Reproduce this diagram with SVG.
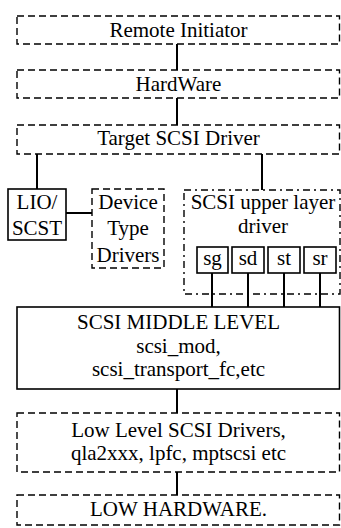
<svg xmlns="http://www.w3.org/2000/svg" width="341" height="528" viewBox="0 0 341 528">
<style>
  .dash { fill: #fff; stroke: #000; stroke-width: 1.4; stroke-dasharray: 7 4; }
  .dashdot { fill: none; stroke: #000; stroke-width: 1.4; stroke-dasharray: 7 4 2 4; }
  .solid { fill: #fff; stroke: #000; stroke-width: 1.6; }
  .conn line { stroke: #000; stroke-width: 2; }
  .t { font-family: 'Liberation Serif', 'DejaVu Serif', serif; font-size: 21px; fill: #000; text-anchor: middle; }
</style>
<rect width="341" height="528" fill="#fff"/>
<g class="conn" id="connectors">
  <line x1="177" y1="44" x2="177" y2="70"/>
  <line x1="177" y1="98" x2="177" y2="125"/>
  <line x1="37" y1="154" x2="37" y2="189"/>
  <line x1="262" y1="154" x2="262" y2="190"/>
  <line x1="66" y1="213" x2="92" y2="213"/>
  <line x1="212" y1="273" x2="212" y2="307"/>
  <line x1="248" y1="273" x2="248" y2="307"/>
  <line x1="284" y1="273" x2="284" y2="307"/>
  <line x1="320" y1="273" x2="320" y2="307"/>
  <line x1="177" y1="389" x2="177" y2="413"/>
  <line x1="177" y1="472" x2="177" y2="495"/>
</g>
<g id="remote">
  <rect class="dash" x="17" y="16" width="322.5" height="28"/>
  <text class="t" font-family="Liberation Serif, serif" x="178.5" y="37">Remote Initiator</text>
</g>
<g id="hardware">
  <rect class="dash" x="17" y="70" width="322.5" height="28"/>
  <text class="t" font-family="Liberation Serif, serif" x="178.5" y="91">HardWare</text>
</g>
<g id="target">
  <rect class="dash" x="17" y="125" width="322.5" height="29"/>
  <text class="t" font-family="Liberation Serif, serif" x="178.5" y="145">Target SCSI Driver</text>
</g>
<g id="lio">
  <rect class="solid" x="8" y="189" width="58" height="51"/>
  <text class="t" font-family="Liberation Serif, serif" x="37" y="209">LIO/</text>
  <text class="t" font-family="Liberation Serif, serif" x="37" y="235">SCST</text>
</g>
<g id="device">
  <rect class="dash" x="92" y="189" width="72" height="79"/>
  <text class="t" font-family="Liberation Serif, serif" x="128" y="209">Device</text>
  <text class="t" font-family="Liberation Serif, serif" x="128" y="235">Type</text>
  <text class="t" font-family="Liberation Serif, serif" x="128" y="262">Drivers</text>
</g>
<g id="upper">
  <rect class="dashdot" x="184" y="190" width="156" height="104"/>
  <text class="t" font-family="Liberation Serif, serif" x="263" y="209">SCSI upper layer</text>
  <text class="t" font-family="Liberation Serif, serif" x="263" y="233">driver</text>
</g>
<g id="sg">
  <rect class="solid" x="197" y="247" width="31" height="26"/>
  <text class="t" font-family="Liberation Serif, serif" x="212.5" y="265">sg</text>
</g>
<g id="sd">
  <rect class="solid" x="232" y="247" width="32" height="26"/>
  <text class="t" font-family="Liberation Serif, serif" x="248" y="265">sd</text>
</g>
<g id="st">
  <rect class="solid" x="268" y="247" width="32" height="26"/>
  <text class="t" font-family="Liberation Serif, serif" x="284" y="265">st</text>
</g>
<g id="sr">
  <rect class="solid" x="304" y="247" width="32" height="26"/>
  <text class="t" font-family="Liberation Serif, serif" x="320" y="265">sr</text>
</g>
<g id="middle">
  <rect class="solid" x="17" y="307" width="322.5" height="82"/>
  <text class="t" font-family="Liberation Serif, serif" x="178.5" y="329">SCSI MIDDLE LEVEL</text>
  <text class="t" font-family="Liberation Serif, serif" x="178.5" y="353">scsi_mod,</text>
  <text class="t" font-family="Liberation Serif, serif" x="178.5" y="376">scsi_transport_fc,etc</text>
</g>
<g id="lowlevel">
  <rect class="dash" x="17" y="413" width="322.5" height="59"/>
  <text class="t" font-family="Liberation Serif, serif" x="178.5" y="437">Low Level SCSI Drivers,</text>
  <text class="t" font-family="Liberation Serif, serif" x="178.5" y="460">qla2xxx, lpfc, mptscsi etc</text>
</g>
<g id="lowhw">
  <rect class="dash" x="17" y="495" width="322.5" height="30"/>
  <text class="t" font-family="Liberation Serif, serif" x="178.5" y="516">LOW HARDWARE.</text>
</g>
</svg>
